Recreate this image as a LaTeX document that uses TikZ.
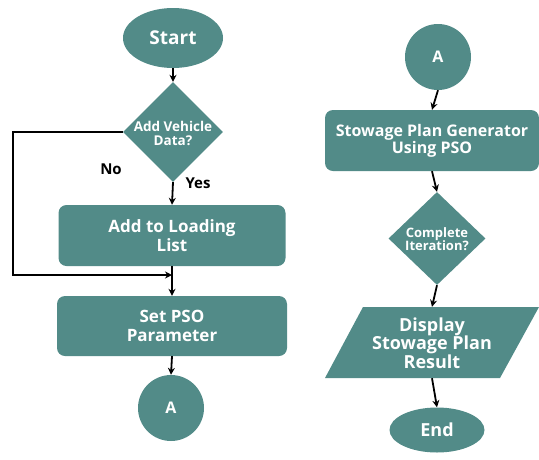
\documentclass[tikz,border=0pt]{standalone}
\usepackage{fontspec}
\setmainfont{Open Sans}
\usetikzlibrary{shapes.geometric,arrows.meta}
\definecolor{teal1}{RGB}{82,139,136}
\newcommand{\fs}[2]{\fontsize{#1}{#2}\selectfont}
\tikzset{
  shapebase/.style={fill=teal1,draw=none,text=white,align=center,inner sep=0pt},
  term/.style={shapebase,ellipse},
  procbox/.style={shapebase,rectangle,rounded corners=8pt},
  conn/.style={shapebase,circle},
  decis/.style={shapebase,diamond,aspect=1},
  wtext/.style={text=white,align=center,inner sep=0pt},
  arr/.style={-{Stealth[length=7pt,width=7pt]},line width=1.8pt,black},
  loopline/.style={line width=1.8pt,black}
}
\begin{document}
\begin{tikzpicture}[x=1pt,y=-1pt]
\useasboundingbox (0,0) rectangle (539,459);
% left column
\node[term,minimum width=100pt,minimum height=60pt,font=\bfseries\fs{19}{20}] (start) at (173,38) {Start};
\node[decis,minimum width=100pt,minimum height=100pt] (d1) at (173,132) {};
\node[wtext,font=\bfseries\fs{13.5}{14}] (d1t) at (173,133) {Add Vehicle\\Data?};
\node[procbox,minimum width=227pt,minimum height=61pt,font=\bfseries\fs{17}{19}] (b1) at (172,235.5) {Add to Loading\\List};
\node[procbox,minimum width=230pt,minimum height=60pt,font=\bfseries\fs{17}{19}] (b2) at (172,326) {Set PSO\\Parameter};
\node[conn,minimum size=66pt,font=\bfseries\fs{16}{17}] (a1) at (171,408) {A};
\node[font=\bfseries\fs{15}{16}] (no) at (111,169) {No};
\node[font=\bfseries\fs{15}{16}] (yes) at (198,183) {Yes};
\coordinate (lc1) at (13,132);
\coordinate (lc2) at (13,275);
\coordinate (lc3) at (172,275);
\draw[arr] (start.south) -- (d1.north);
\draw[arr] (d1.south) -- (b1.north);
\draw[arr] (b1.south) -- (b2.north);
\draw[arr] (b2.south) -- (a1.north);
\draw[loopline,-{Stealth[length=7pt,width=7pt]}] (d1.west) -- (lc1) -- (lc2) -- (lc3);
% right column
\node[conn,minimum size=66pt,font=\bfseries\fs{16}{17}] (a2) at (438,57) {A};
\node[procbox,minimum width=214pt,minimum height=61pt,font=\bfseries\fs{16}{17}] (b3) at (432,140.5) {Stowage Plan Generator\\Using PSO};
\node[decis,minimum width=97pt,minimum height=93pt] (d2) at (437,238.5) {};
\node[wtext,font=\bfseries\fs{13}{13}] (d2t) at (437,239) {Complete\\Iteration?};
\node[inner sep=0pt,minimum width=140pt,minimum height=71pt] (p) at (432,342.5) {};
\fill[teal1] (363,307) -- (539,307) -- (500,378) -- (325,378) -- cycle;
\node[wtext,font=\bfseries\fs{18}{18.5}] (pt) at (432,343) {Display\\Stowage Plan\\Result};
\node[term,minimum width=95pt,minimum height=45pt,font=\bfseries\fs{18}{19}] (end) at (437,430) {End};
\draw[arr] (a2.south) -- (b3.north);
\draw[arr] (b3.south) -- (d2.north);
\draw[arr] (d2.south) -- (p.north);
\draw[arr] (p.south) -- (end.north);
\end{tikzpicture}
\end{document}
